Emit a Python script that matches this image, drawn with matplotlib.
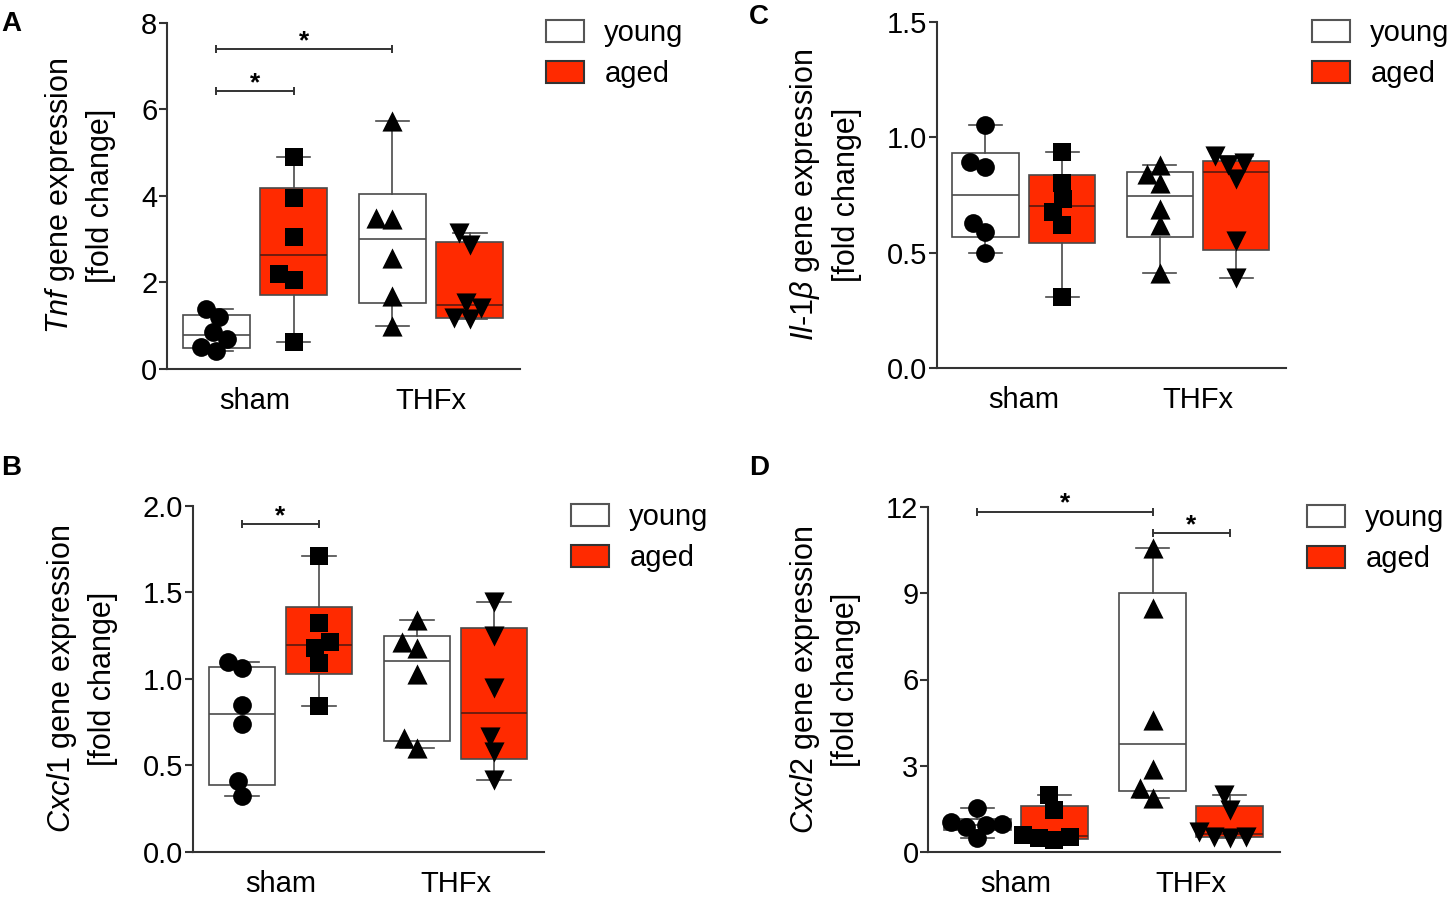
import numpy as np
import matplotlib
matplotlib.use("Agg")
import matplotlib.pyplot as plt
from matplotlib.patches import Patch

plt.rcParams["font.family"] = ["Liberation Sans", "DejaVu Sans"]
plt.rcParams["mathtext.fontset"] = "custom"
plt.rcParams["mathtext.rm"] = "Liberation Sans"
plt.rcParams["mathtext.it"] = "Liberation Sans:italic"

# ---- data (fold change, 6 animals per group) ----
groups = ["young sham", "aged sham", "young THFx", "aged THFx"]
categories = ["sham", "THFx"]

tnf_young_sham = [1.38, 1.19, 0.85, 0.68, 0.49, 0.41]
tnf_aged_sham = [4.89, 3.94, 3.05, 2.19, 2.05, 0.61]
tnf_young_thfx = [5.72, 3.48, 3.45, 2.55, 1.68, 0.98]
tnf_aged_thfx = [3.14, 2.86, 1.52, 1.40, 1.17, 1.14]

cxcl1_young_sham = [1.10, 1.06, 0.85, 0.74, 0.41, 0.32]
cxcl1_aged_sham = [1.71, 1.32, 1.21, 1.18, 1.09, 0.84]
cxcl1_young_thfx = [1.34, 1.215, 1.18, 1.03, 0.655, 0.60]
cxcl1_aged_thfx = [1.445, 1.245, 0.945, 0.665, 0.575, 0.415]

il1b_young_sham = [1.053, 0.891, 0.872, 0.63, 0.588, 0.50]
il1b_aged_sham = [0.937, 0.803, 0.731, 0.677, 0.62, 0.31]
il1b_young_thfx = [0.88, 0.84, 0.80, 0.69, 0.62, 0.41]
il1b_aged_thfx = [0.92, 0.89, 0.88, 0.82, 0.55, 0.39]

cxcl2_young_sham = [1.53, 1.04, 0.98, 0.94, 0.88, 0.48]
cxcl2_aged_sham = [1.99, 1.47, 0.60, 0.54, 0.49, 0.43]
cxcl2_young_thfx = [10.55, 8.47, 4.59, 2.90, 2.22, 1.87]
cxcl2_aged_thfx = [1.99, 1.47, 0.72, 0.54, 0.54, 0.49]

# significance brackets: (from group, to group, height)
sig_tnf = [(0, 2, 7.40), (0, 1, 6.42)]
sig_cxcl1 = [(0, 1, 1.895)]
sig_il1b = []
sig_cxcl2 = [(0, 2, 11.83), (2, 3, 11.08)]

tnf_ticks = [0, 2, 4, 6, 8]
cxcl1_ticks = [0.0, 0.5, 1.0, 1.5, 2.0]
il1b_ticks = [0.0, 0.5, 1.0, 1.5]
cxcl2_ticks = [0, 3, 6, 9, 12]

RED = "#ff2a00"
EDGE = "#4a4a4a"
FS = 21
W, H = 1452, 900

markers = ["o", "s", "^", "v"]
msizes = [13.5, 13.5, 14.5, 14.5]
faces = ["white", RED, "white", RED]
positions = [0.78, 1.22, 1.78, 2.22]


def weibull_stats(vals):
    v = np.sort(np.asarray(vals, float))
    q1, med, q3 = np.percentile(v, [25, 50, 75], method="weibull")
    return dict(med=med, q1=q1, q3=q3, whislo=v[0], whishi=v[-1], fliers=[])


def swarm_offsets(ys_px, d):
    # simple beeswarm in pixel space
    ys_px = np.asarray(ys_px, float)
    xs = np.zeros(len(ys_px))
    placed = []
    for i in np.argsort(ys_px):
        y = ys_px[i]
        cands = [0.0]
        for px, py in placed:
            dy = abs(py - y)
            if dy < d:
                dx = np.sqrt(d * d - dy * dy)
                cands += [px - dx, px + dx]
        cands.sort(key=abs)
        for c in cands:
            if all((c - px) ** 2 + (y - py) ** 2 >= d * d - 1e-6 for px, py in placed):
                xs[i] = c
                break
        placed.append((xs[i], y))
    return xs


def panel(fig, rect_px, series, ticks, fmt, ylabel, sig, legend_px, letter, letter_px):
    left, right, bottom, top = rect_px
    ax = fig.add_axes([left / W, 1 - bottom / H, (right - left) / W, (bottom - top) / H])
    ax.set_xlim(0.5, 2.505)
    ax.set_ylim(ticks[0], ticks[-1])

    for spine in ("top", "right"):
        ax.spines[spine].set_visible(False)
    for spine in ("left", "bottom"):
        ax.spines[spine].set_color("#333333")
        ax.spines[spine].set_linewidth(1.5)

    for k, vals in enumerate(series):
        face = faces[k]
        ax.bxp([weibull_stats(vals)], positions=[positions[k]], widths=0.38,
               patch_artist=True, showfliers=False, manage_ticks=False,
               boxprops=dict(facecolor=face, edgecolor=EDGE, linewidth=1.2),
               medianprops=dict(color="#5a1a10" if face == RED else EDGE, linewidth=1.2),
               whiskerprops=dict(color=EDGE, linewidth=1.2),
               capprops=dict(color=EDGE, linewidth=1.2))

    fig.canvas.draw()
    trans = ax.transData
    for k, vals in enumerate(series):
        pts = trans.transform(np.column_stack([np.full(len(vals), positions[k]), vals]))
        offs = swarm_offsets(pts[:, 1], 16.0)
        pts[:, 0] += offs
        data = trans.inverted().transform(pts)
        ax.scatter(data[:, 0], data[:, 1], s=msizes[k] ** 2, marker=markers[k],
                   color="black", linewidths=0, zorder=4, clip_on=False)

    for g1, g2, yb in sig:
        x1, x2 = positions[g1], positions[g2]
        ax.plot([x1, x2], [yb, yb], color="#333333", lw=1.4, clip_on=False)
        ax.plot([x1, x2], [yb, yb], ls="none", marker="|", ms=6, mew=1.4,
                color="#333333", clip_on=False)
        ax.annotate("*", ((x1 + x2) / 2, yb), xytext=(0, -3), textcoords="offset points",
                    ha="center", va="bottom", fontsize=19, fontweight="bold")

    ax.set_yticks(ticks)
    ax.set_yticklabels([fmt.format(t) for t in ticks])
    ax.tick_params(axis="y", labelsize=FS, length=6, width=1.5, color="#333333", pad=1)
    ax.set_xticks([1, 2])
    ax.set_xticklabels(categories)
    ax.tick_params(axis="x", labelsize=FS, length=0, pad=13)
    ax.set_ylabel(ylabel, fontsize=FS + 1, linespacing=1.4, labelpad=18)

    handles = [Patch(facecolor="white", edgecolor="#555555", lw=1.5, label="young"),
               Patch(facecolor=RED, edgecolor="#333333", lw=1.5, label="aged")]
    ax.legend(handles=handles, loc="upper left",
              bbox_to_anchor=(legend_px[0] / W, 1 - legend_px[1] / H),
              bbox_transform=fig.transFigure, frameon=False, fontsize=FS,
              handlelength=1.3, handleheight=0.8, handletextpad=0.7,
              labelspacing=0.45, borderpad=0, borderaxespad=0)

    fig.text(letter_px[0] / W, 1 - letter_px[1] / H, letter, ha="left", va="top",
             fontsize=20, fontweight="bold")
    return ax


fig = plt.figure(figsize=(W / 100, H / 100), dpi=100)

panel(fig, (167, 520, 368.5, 22.9),
      [tnf_young_sham, tnf_aged_sham, tnf_young_thfx, tnf_aged_thfx],
      tnf_ticks, "{:.0f}", "$\\mathit{Tnf}$ gene expression\n[fold change]",
      sig_tnf, (546, 19), "A", (1, 11))
panel(fig, (193, 544, 851.7, 505.9),
      [cxcl1_young_sham, cxcl1_aged_sham, cxcl1_young_thfx, cxcl1_aged_thfx],
      cxcl1_ticks, "{:.1f}", "$\\mathit{Cxcl1}$ gene expression\n[fold change]",
      sig_cxcl1, (571, 503), "B", (1, 455))
panel(fig, (936.7, 1286, 368.2, 21.7),
      [il1b_young_sham, il1b_aged_sham, il1b_young_thfx, il1b_aged_thfx],
      il1b_ticks, "{:.1f}", "$\\mathit{Il}$-$\\mathit{1\\beta}$ gene expression\n[fold change]",
      sig_il1b, (1312, 19), "C", (749, 4))
panel(fig, (928.3, 1279.5, 852.3, 506.7),
      [cxcl2_young_sham, cxcl2_aged_sham, cxcl2_young_thfx, cxcl2_aged_thfx],
      cxcl2_ticks, "{:.0f}", "$\\mathit{Cxcl2}$ gene expression\n[fold change]",
      sig_cxcl2, (1307, 504), "D", (749, 455))

fig.savefig("out.png", dpi=100)
